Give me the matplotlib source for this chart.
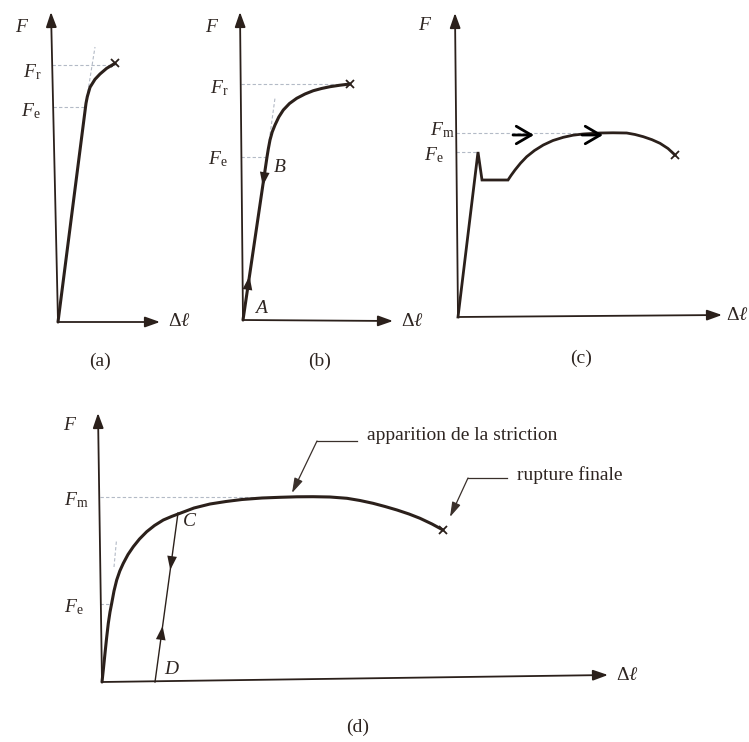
import matplotlib
matplotlib.use("Agg")
import matplotlib.pyplot as plt

plt.rcParams["font.family"] = ["Liberation Serif", "DejaVu Serif"]
plt.rcParams["mathtext.fontset"] = "custom"
plt.rcParams["mathtext.rm"] = "Liberation Serif"
plt.rcParams["mathtext.it"] = "Liberation Serif:italic"

W, H = 749, 742
INK = "#2b201b"
TXT = "#2e2521"
GUIDE = "#b3bac6"
FS = 14

# ---- (a) brittle behaviour: elastic line, short hardening, rupture
a_dl = [0, 28, 29.3, 32, 37, 42, 48.7, 57]
a_F = [0, 218.7, 225.3, 234.7, 242.7, 248, 253.7, 258.7]
a_Fe, a_Fr = 215, 257

# ---- (b) elastic loading / unloading A-B, then hardening to rupture
b_dl = [0, 24, 25.3, 27, 29.2, 32, 35.8, 40.3, 46.5, 53.7, 62, 70.3, 78.5,
        87, 97, 107]
b_F = [0, 163, 171, 180, 188, 195, 203, 210, 216.5, 221.7, 226, 229.3, 231.5,
       233.3, 234.8, 236]
b_Fe, b_Fr = 163, 236

# ---- (c) upper yield point, plateau, hardening, necking
c_dl = [0, 20, 24, 50, 53, 57, 62.5, 68.7, 76.5, 85.3, 95, 105.3, 115, 125.3,
        142, 155, 168.7, 177, 185.3, 194, 202, 210, 217]
c_F = [0, 165, 137, 137, 141.5, 147, 153.8, 160.3, 166.5, 172, 176.5, 179.7,
       181.8, 183, 184, 184.2, 184, 182.5, 180.3, 177.3, 173.7, 168.5, 162]
c_Fe, c_Fm = 165, 184

# ---- (d) ductile behaviour with unloading C-D
d_dl = [0, 1.5, 3, 4.6, 6.3, 8, 9.7, 12, 14.7, 17.8, 21.3, 26, 31.3, 37.5,
        44.7, 52.5, 61.3, 70, 78, 92, 108, 124, 140, 160, 178, 195, 211, 228,
        245, 258, 271, 283, 295, 307, 318, 330, 341]
d_F = [0, 14, 28.7, 44, 58.7, 70, 78.7, 91, 102, 111, 118.7, 127.5, 135.3,
       143, 150.3, 156.5, 162, 165.7, 168.7, 174, 178, 180.5, 182.5, 184,
       184.7, 185.2, 185.3, 185, 183.7, 181.5, 178.7, 175.5, 172, 168, 163.7,
       158, 152]
d_Fe, d_Fm = 78, 185
d_C = (76, 169)
d_D = (53, 0)

fig = plt.figure(figsize=(W / 100, H / 100), dpi=100)
fig.patch.set_facecolor("white")


def panel(ox, oy, xmax, ymax, xmin=-70, ymin=-25):
    ax = fig.add_axes([(ox + xmin) / W, (H - oy + ymin) / H,
                       (xmax - xmin) / W, (ymax - ymin) / H])
    ax.set_xlim(xmin, xmax)
    ax.set_ylim(ymin, ymax)
    ax.axis("off")
    return ax


def axis_arrows(ax, xtip, ytip):
    for tip in (xtip, ytip):
        ax.annotate("", xy=tip, xytext=(0, 0),
                    arrowprops=dict(arrowstyle="-|>,head_length=0.9,head_width=0.32",
                                    color=INK, lw=1.3, shrinkA=0, shrinkB=0,
                                    mutation_scale=10))


def guide(ax, x0, x1, y0, y1):
    ax.plot([x0, x1], [y0, y1], color=GUIDE, lw=0.8, ls=(0, (3, 2)), zorder=1)


def on_line(p, q, f):
    t = (f - p[1]) / (q[1] - p[1])
    return (p[0] + t * (q[0] - p[0]), f)


def line_arrow(ax, p, q, f_from, f_to):
    ax.annotate("", xy=on_line(p, q, f_to), xytext=on_line(p, q, f_from),
                arrowprops=dict(arrowstyle="-|>,head_length=1.0,head_width=0.35",
                                color=INK, lw=0, shrinkA=0, shrinkB=0,
                                mutation_scale=10))


def flabel(ax, x, y, s):
    ax.text(x, y, s, ha="right", va="center", fontsize=FS, color=TXT)


def axis_titles(ax, xtip, ytip, fpos, gap=8):
    ax.text(xtip[0] + gap, xtip[1], r"$\Delta\ell$", ha="left", va="center",
            fontsize=FS, color=TXT)
    ax.text(fpos[0], fpos[1], r"$F$", ha="center", va="center",
            fontsize=FS, color=TXT)


def curve(ax, x, y, lw=2.2):
    ax.plot(x, y, color=INK, lw=lw, solid_capstyle="round",
            solid_joinstyle="round")
    ax.plot(x[-1], y[-1], marker="x", ms=6, mew=1.3, color=INK)


# ---------------- (a)
ax = panel(58, 322, 130, 315)
xt, yt = (102, 0), (-7, 310)
guide(ax, -5, 27.5, a_Fe, a_Fe)
guide(ax, -6, a_dl[-1], a_Fr, a_Fr)
guide(ax, a_dl[1], 37, a_F[1], 275)
axis_arrows(ax, xt, yt)
curve(ax, a_dl, a_F)
axis_titles(ax, xt, yt, (-36, 294))
flabel(ax, -17, a_Fr - 7, r"$F_{\mathrm{r}}$")
flabel(ax, -17, a_Fe - 4, r"$F_{\mathrm{e}}$")

# ---------------- (b)
ax = panel(243, 320, 180, 315)
xt, yt = (150, -1), (-3, 308)
guide(ax, -2, b_dl[1], b_Fe, b_Fe)
guide(ax, -2, b_dl[-1], b_Fr, b_Fr)
guide(ax, b_dl[1], 32, b_F[1], 222)
axis_arrows(ax, xt, yt)
curve(ax, b_dl, b_F)
p0, p1 = (b_dl[0], b_F[0]), (b_dl[1], b_F[1])
line_arrow(ax, p0, p1, 150, 134)
line_arrow(ax, p0, p1, 28, 44)
axis_titles(ax, xt, yt, (-31, 292))
flabel(ax, -15, b_Fr - 4, r"$F_{\mathrm{r}}$")
flabel(ax, -15, b_Fe - 2, r"$F_{\mathrm{e}}$")
ax.text(37, 153, r"$B$", ha="center", va="center", fontsize=FS, color=TXT)
ax.text(19, 12, r"$A$", ha="center", va="center", fontsize=FS, color=TXT)

# ---------------- (c)
ax = panel(458, 317, 291, 315)
xt, yt = (264, 2), (-3, 304)
guide(ax, -2, c_dl[1], c_Fe, c_Fe)
guide(ax, -2, 142, c_Fm, c_Fm)
axis_arrows(ax, xt, yt)
ax.plot(c_dl, c_F, color=INK, lw=2.0, solid_joinstyle="miter")
ax.plot(c_dl[-1], c_F[-1], marker="x", ms=6, mew=1.3, color=INK)
for x0, x1 in ((55, 76), (124, 145)):
    ax.annotate("", xy=(x1, 182), xytext=(x0, 182),
                arrowprops=dict(arrowstyle="->,head_length=0.6,head_width=0.35",
                                color="black", lw=2.0, shrinkA=0, shrinkB=0,
                                mutation_scale=18))
axis_titles(ax, xt, yt, (-33, 292), gap=4)
flabel(ax, -4, c_Fm + 3, r"$F_{\mathrm{m}}$")
flabel(ax, -14, c_Fe - 3, r"$F_{\mathrm{e}}$")

# ---------------- (d)
ax = panel(102, 682, 540, 280)
xt, yt = (506, 7), (-4, 269)
guide(ax, -2, 10, d_Fe, d_Fe)
guide(ax, -2, 190, d_Fm, d_Fm)
guide(ax, 12, 14.5, 115, 142)
axis_arrows(ax, xt, yt)
curve(ax, d_dl, d_F)
ax.plot([d_C[0], d_D[0]], [d_C[1], d_D[1]], color=INK, lw=1.0)
line_arrow(ax, d_D, d_C, 128, 112)
line_arrow(ax, d_D, d_C, 40, 56)
axis_titles(ax, xt, yt, (-32, 257))
flabel(ax, -14, d_Fm - 3, r"$F_{\mathrm{m}}$")
flabel(ax, -18, d_Fe - 3, r"$F_{\mathrm{e}}$")
ax.text(88, 160, r"$C$", ha="center", va="center", fontsize=FS, color=TXT)
ax.text(70, 12, r"$D$", ha="center", va="center", fontsize=FS, color=TXT)

LEAD = "#3a302b"
ax.plot([255, 215], [241, 241], color=LEAD, lw=0.9)
ax.annotate("", xy=(190, 189), xytext=(215, 241),
            arrowprops=dict(arrowstyle="-|>,head_length=1.0,head_width=0.3",
                            color=LEAD, lw=0.9, shrinkA=0, shrinkB=0,
                            mutation_scale=9))
ax.text(265, 246, "apparition de la striction", ha="left", va="center",
        fontsize=FS, color=TXT)
ax.plot([405, 366], [204, 204], color=LEAD, lw=0.9)
ax.annotate("", xy=(348, 165), xytext=(366, 204),
            arrowprops=dict(arrowstyle="-|>,head_length=1.0,head_width=0.3",
                            color=LEAD, lw=0.9, shrinkA=0, shrinkB=0,
                            mutation_scale=9))
ax.text(415, 207, "rupture finale", ha="left", va="center",
        fontsize=FS, color=TXT)

# ---------------- sub-figure captions
for x, y, s in ((100, 361, "(a)"), (320, 361, "(b)"), (581, 358, "(c)"),
                (358, 727, "(d)")):
    fig.text(x / W, 1 - y / H, s, ha="center", va="center", fontsize=FS,
             color=TXT)

fig.savefig("out.png", dpi=100, facecolor="white")
